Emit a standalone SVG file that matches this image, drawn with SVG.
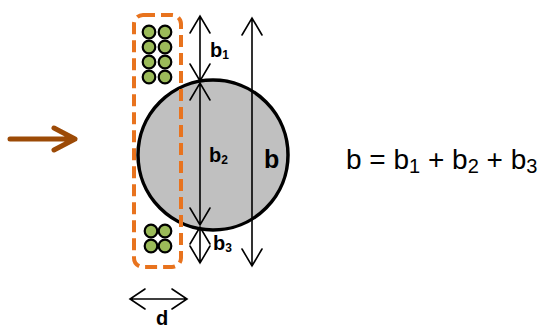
<svg xmlns="http://www.w3.org/2000/svg" width="541" height="331" viewBox="0 0 541 331">
<style>
.ar{fill:none;stroke:#000;stroke-width:1.6;stroke-linecap:round;stroke-linejoin:miter}
.g{fill:#9BBB59;stroke:#000;stroke-width:2.2}
.lb{font-family:"Liberation Sans",Arial,sans-serif;font-weight:bold;fill:#000}
.eq{font-family:"Liberation Sans",Arial,sans-serif;fill:#000}
</style>
<rect width="541" height="331" fill="#fff"/>
<g id="flow-arrow">
<path d="M10,139 H75 M54,128 L75,139 L54,150" fill="none" stroke="#9C4A06" stroke-width="5" stroke-linecap="round" stroke-linejoin="round"/>
</g>
<g id="particle">
<circle cx="213" cy="155" r="75" fill="#C0C0C0" stroke="#000" stroke-width="3.5"/>
</g>
<g id="filter-band">
<rect x="134" y="15" width="47" height="252" rx="9" fill="none" stroke="#E8731E" stroke-width="4" stroke-dasharray="12,6"/>
</g>
<g id="fibers-top">
<circle class="g" cx="149" cy="32" r="6.3"/><circle class="g" cx="165" cy="32" r="6.3"/>
<circle class="g" cx="149" cy="47" r="6.3"/><circle class="g" cx="165" cy="47" r="6.3"/>
<circle class="g" cx="149" cy="62" r="6.3"/><circle class="g" cx="165" cy="62" r="6.3"/>
<circle class="g" cx="149" cy="77" r="6.3"/><circle class="g" cx="165" cy="77" r="6.3"/>
</g>
<g id="fibers-bottom">
<circle class="g" cx="151" cy="231" r="6.3"/><circle class="g" cx="165" cy="231" r="6.3"/>
<circle class="g" cx="151" cy="246" r="6.3"/><circle class="g" cx="165" cy="246" r="6.3"/>
</g>
<g id="connectors">
<path class="ar" d="M200,16 V81 M190,33 L200,16 L210,33 M190,64 L200,81 L210,64"/>
<path class="ar" d="M200,83 V225 M190,100 L200,83 L210,100 M190,208 L200,225 L210,208"/>
<path class="ar" d="M200,227 V263 M190,244 L200,227 L210,244 M190,246 L200,263 L210,246"/>
<path class="ar" d="M252,18 V266 M242,35 L252,18 L262,35 M242,249 L252,266 L262,249"/>
<path class="ar" d="M130,299 H187 M145,289 L130,299 L145,309 M172,289 L187,299 L172,309"/>
</g>
<g id="labels">
<text class="lb" x="210" y="57" font-size="20">b<tspan font-size="12" dy="2">1</tspan></text>
<text class="lb" x="209" y="162" font-size="20">b<tspan font-size="12" dy="2">2</tspan></text>
<text class="lb" x="213" y="250" font-size="20">b<tspan font-size="12" dy="2">3</tspan></text>
<text class="lb" x="264" y="168" font-size="25">b</text>
<text class="lb" x="162" y="325" font-size="20" text-anchor="middle">d</text>
<text class="eq" x="346" y="169" font-size="28">b = b<tspan font-size="20" dy="4">1</tspan><tspan dy="-4"> + b</tspan><tspan font-size="20" dy="4">2</tspan><tspan dy="-4"> + b</tspan><tspan font-size="20" dy="4">3</tspan></text>
</g>
</svg>
